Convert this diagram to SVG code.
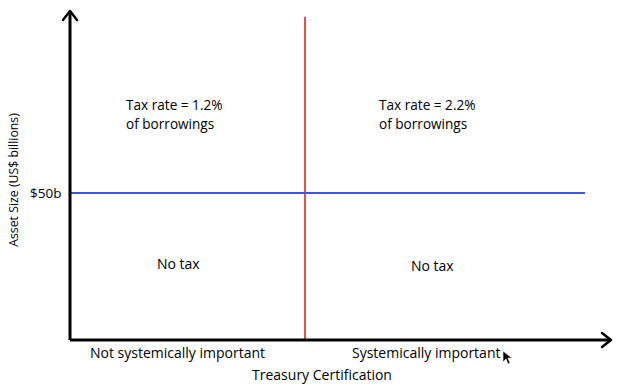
<svg xmlns="http://www.w3.org/2000/svg" width="619" height="390" viewBox="0 0 619 390">
<style>
text{font-family:"Open Sans","Liberation Sans",sans-serif;font-size:14px;fill:#000}
.q{font-size:13.6px}
.ax{stroke:#000;stroke-width:3;fill:none}
.ah{stroke:#000;stroke-width:2.5;fill:none;stroke-linecap:round;stroke-linejoin:round}
</style>
<rect width="619" height="390" fill="#fff"/>
<g id="connectors">
<line x1="305" y1="17" x2="305" y2="340" stroke="#e8231f" stroke-width="1.6"/>
<line x1="71" y1="193" x2="585" y2="193" stroke="#3a55e0" stroke-width="1.8"/>
<path class="ax" d="M70,340 V12 M70,340 H610"/>
<path class="ah" d="M63,20 L70,11 L77,20"/>
<path class="ah" d="M602,333 L611,340 L602,347"/>
</g>
<g id="y-axis-label"><text transform="translate(18,180) rotate(-90)" text-anchor="middle" style="font-size:12.3px">Asset Size (US$ billions)</text></g>
<g id="tick-50b"><text x="30" y="198" style="font-size:13.5px">$50b</text></g>
<g id="q-top-left"><text class="q" x="126" y="109.5">Tax rate = 1.2%</text><text class="q" x="126" y="128.5">of borrowings</text></g>
<g id="q-top-right"><text class="q" x="379" y="109.5">Tax rate = 2.2%</text><text class="q" x="379" y="128.5">of borrowings</text></g>
<g id="q-bottom-left"><text x="157" y="269">No tax</text></g>
<g id="q-bottom-right"><text x="411" y="271">No tax</text></g>
<g id="x-labels">
<text x="90" y="358">Not systemically important</text>
<text x="352" y="358">Systemically important</text>
<text x="322" y="380" text-anchor="middle">Treasury Certification</text>
</g>
<g id="cursor"><path d="M503,351 L503,362 L506,359 L508,364 L510,363 L508,358 L512,358 Z" fill="#000" stroke="#fff" stroke-width="0.6"/></g>
</svg>
